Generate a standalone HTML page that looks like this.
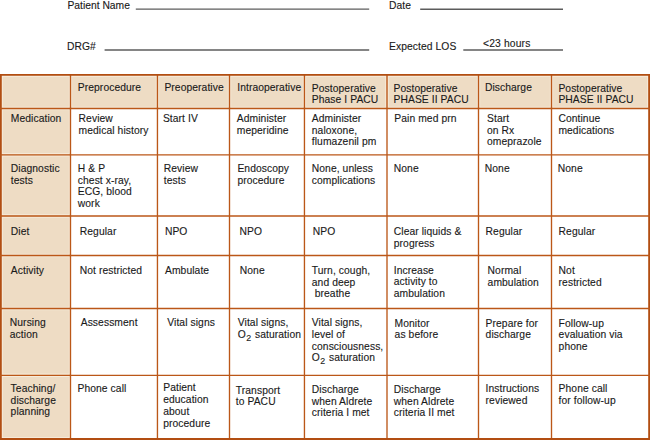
<!DOCTYPE html>
<html><head><meta charset="utf-8"><style>
html,body{margin:0;padding:0;background:#fff;width:650px;height:440px;overflow:hidden;position:relative}
body{font-family:"Liberation Sans",sans-serif;font-size:10.3px;color:#1a1a1a}
.t{position:absolute;white-space:nowrap;letter-spacing:0.08px;-webkit-text-stroke:0.12px #1a1a1a}
.r{position:absolute;background:#555}
.b{position:absolute;background:#bb5718}
.bg{position:absolute;background:#eedcc4}
sub{font-size:0.86em;vertical-align:-0.3em;line-height:0;padding-left:0.3px;margin-right:0.9px}
</style></head><body>

<svg width="650" height="440" style="position:absolute;left:0;top:0"><rect x="0.85" y="74.95" width="648.25" height="33.50" fill="#eedcc4"/><rect x="0.85" y="108.45" width="69.65" height="330.55" fill="#eedcc4"/><rect x="2.25" y="76.35" width="67.08" height="30.92" fill="none" stroke="rgba(255,250,238,0.55)" stroke-width="1"/><rect x="71.67" y="76.35" width="84.60" height="30.92" fill="none" stroke="rgba(255,250,238,0.55)" stroke-width="1"/><rect x="158.62" y="76.35" width="69.70" height="30.92" fill="none" stroke="rgba(255,250,238,0.55)" stroke-width="1"/><rect x="230.68" y="76.35" width="72.60" height="30.92" fill="none" stroke="rgba(255,250,238,0.55)" stroke-width="1"/><rect x="305.62" y="76.35" width="80.20" height="30.92" fill="none" stroke="rgba(255,250,238,0.55)" stroke-width="1"/><rect x="388.18" y="76.35" width="89.15" height="30.92" fill="none" stroke="rgba(255,250,238,0.55)" stroke-width="1"/><rect x="479.68" y="76.35" width="70.65" height="30.92" fill="none" stroke="rgba(255,250,238,0.55)" stroke-width="1"/><rect x="552.67" y="76.35" width="95.03" height="30.92" fill="none" stroke="rgba(255,250,238,0.55)" stroke-width="1"/><rect x="2.25" y="109.62" width="67.08" height="44.05" fill="none" stroke="rgba(255,250,238,0.55)" stroke-width="1"/><rect x="2.25" y="156.03" width="67.08" height="58.80" fill="none" stroke="rgba(255,250,238,0.55)" stroke-width="1"/><rect x="2.25" y="217.18" width="67.08" height="37.15" fill="none" stroke="rgba(255,250,238,0.55)" stroke-width="1"/><rect x="2.25" y="256.68" width="67.08" height="50.65" fill="none" stroke="rgba(255,250,238,0.55)" stroke-width="1"/><rect x="2.25" y="309.68" width="67.08" height="64.45" fill="none" stroke="rgba(255,250,238,0.55)" stroke-width="1"/><rect x="2.25" y="376.48" width="67.08" height="61.12" fill="none" stroke="rgba(255,250,238,0.55)" stroke-width="1"/><line x1="135.8" y1="9.1" x2="369.2" y2="9.1" stroke="#5c5c5c" stroke-width="1.35"/><line x1="420.2" y1="9.2" x2="563.0" y2="9.2" stroke="#5c5c5c" stroke-width="1.35"/><line x1="104.6" y1="50.0" x2="369.2" y2="50.0" stroke="#5c5c5c" stroke-width="1.35"/><line x1="463.3" y1="50.0" x2="563.0" y2="50.0" stroke="#5c5c5c" stroke-width="1.35"/><line x1="0.85" y1="74.95" x2="0.85" y2="439.0" stroke="#b24e12" stroke-width="1.8"/><line x1="70.5" y1="74.95" x2="70.5" y2="439.0" stroke="#bb5718" stroke-width="1.35"/><line x1="157.45" y1="74.95" x2="157.45" y2="439.0" stroke="#bb5718" stroke-width="1.35"/><line x1="229.5" y1="74.95" x2="229.5" y2="439.0" stroke="#bb5718" stroke-width="1.35"/><line x1="304.45" y1="74.95" x2="304.45" y2="439.0" stroke="#bb5718" stroke-width="1.35"/><line x1="387.0" y1="74.95" x2="387.0" y2="439.0" stroke="#bb5718" stroke-width="1.35"/><line x1="478.5" y1="74.95" x2="478.5" y2="439.0" stroke="#bb5718" stroke-width="1.35"/><line x1="551.5" y1="74.95" x2="551.5" y2="439.0" stroke="#bb5718" stroke-width="1.35"/><line x1="649.1" y1="74.95" x2="649.1" y2="439.0" stroke="#b24e12" stroke-width="1.8"/><line x1="-0.05" y1="74.95" x2="650.00" y2="74.95" stroke="#b24e12" stroke-width="1.8"/><line x1="-0.05" y1="108.45" x2="650.00" y2="108.45" stroke="#bb5718" stroke-width="1.35"/><line x1="-0.05" y1="154.85" x2="650.00" y2="154.85" stroke="#bb5718" stroke-width="1.35"/><line x1="-0.05" y1="216.0" x2="650.00" y2="216.0" stroke="#bb5718" stroke-width="1.35"/><line x1="-0.05" y1="255.5" x2="650.00" y2="255.5" stroke="#bb5718" stroke-width="1.35"/><line x1="-0.05" y1="308.5" x2="650.00" y2="308.5" stroke="#bb5718" stroke-width="1.35"/><line x1="-0.05" y1="375.3" x2="650.00" y2="375.3" stroke="#bb5718" stroke-width="1.35"/><line x1="-0.05" y1="439.0" x2="650.00" y2="439.0" stroke="#b24e12" stroke-width="1.8"/></svg>
<div class="t" style="left:67.5px;top:-0.12px;line-height:11.5px;letter-spacing:0px">Patient Name</div>
<div class="t" style="left:389px;top:-0.12px;line-height:11.5px;letter-spacing:0.08px">Date</div>
<div class="t" style="left:66.9px;top:40.68px;line-height:11.5px;letter-spacing:0.08px">DRG#</div>
<div class="t" style="left:389px;top:40.68px;line-height:11.5px;letter-spacing:0.08px">Expected LOS</div>
<div class="t" style="left:483px;top:38.18px;line-height:11.5px;letter-spacing:0.15px">&lt;23 hours</div>
<div class="t" style="left:77.8px;top:82.13px;line-height:11.8px">Preprocedure</div>
<div class="t" style="left:164.4px;top:82.13px;line-height:11.8px">Preoperative</div>
<div class="t" style="left:237.20000000000002px;top:82.13px;line-height:11.8px">Intraoperative</div>
<div class="t" style="left:311.8px;top:82.58px;line-height:11.3px">Postoperative<br>Phase I PACU</div>
<div class="t" style="left:393.5px;top:82.58px;line-height:11.3px">Postoperative<br>PHASE II PACU</div>
<div class="t" style="left:484.90000000000003px;top:82.13px;line-height:11.8px">Discharge</div>
<div class="t" style="left:558.4px;top:82.58px;line-height:11.3px">Postoperative<br>PHASE II PACU</div>
<div class="t" style="left:10.8px;top:112.83px;line-height:11.8px">Medication</div>
<div class="t" style="left:78.6px;top:112.83px;line-height:11.8px">Review<br>medical history</div>
<div class="t" style="left:162.9px;top:113.03px;line-height:11.8px">Start IV</div>
<div class="t" style="left:236.8px;top:112.78px;line-height:11.9px">Administer<br>meperidine</div>
<div class="t" style="left:311.8px;top:112.93px;line-height:11.6px">Administer<br>naloxone,<br>flumazenil pm</div>
<div class="t" style="left:394.3px;top:112.83px;line-height:11.8px">Pain med prn</div>
<div class="t" style="left:487.0px;top:112.88px;line-height:11.7px">Start<br>on Rx<br>omeprazole</div>
<div class="t" style="left:558.4px;top:112.83px;line-height:11.8px">Continue<br>medications</div>
<div class="t" style="left:10.8px;top:163.13px;line-height:11.8px">Diagnostic<br>tests</div>
<div class="t" style="left:77.8px;top:163.28px;line-height:11.5px">H &amp; P<br>chest x-ray,<br>ECG, blood<br>work</div>
<div class="t" style="left:163.8px;top:163.13px;line-height:11.8px">Review<br>tests</div>
<div class="t" style="left:237.4px;top:163.13px;line-height:11.8px">Endoscopy<br>procedure</div>
<div class="t" style="left:311.8px;top:163.38px;line-height:11.3px">None, unless<br>complications</div>
<div class="t" style="left:393.8px;top:163.13px;line-height:11.8px">None</div>
<div class="t" style="left:484.8px;top:163.13px;line-height:11.8px">None</div>
<div class="t" style="left:557.8px;top:163.13px;line-height:11.8px">None</div>
<div class="t" style="left:10.8px;top:226.03px;line-height:11.8px">Diet</div>
<div class="t" style="left:79.8px;top:225.83px;line-height:11.8px">Regular</div>
<div class="t" style="left:164.9px;top:225.83px;line-height:11.8px">NPO</div>
<div class="t" style="left:239.60000000000002px;top:225.83px;line-height:11.8px">NPO</div>
<div class="t" style="left:312.8px;top:225.83px;line-height:11.8px">NPO</div>
<div class="t" style="left:393.8px;top:225.83px;line-height:11.8px">Clear liquids &amp;<br>progress</div>
<div class="t" style="left:485.6px;top:225.83px;line-height:11.8px">Regular</div>
<div class="t" style="left:558.5999999999999px;top:225.83px;line-height:11.8px">Regular</div>
<div class="t" style="left:10.8px;top:265.13px;line-height:11.8px">Activity</div>
<div class="t" style="left:79.8px;top:265.13px;line-height:11.8px">Not restricted</div>
<div class="t" style="left:165.0px;top:265.13px;line-height:11.8px">Ambulate</div>
<div class="t" style="left:239.8px;top:265.13px;line-height:11.8px">None</div>
<div class="t" style="left:311.8px;top:265.23px;line-height:11.6px">Turn, cough,<br>and deep<br>&nbsp;breathe</div>
<div class="t" style="left:393.8px;top:264.83px;line-height:11.6px">Increase<br>activity to<br>ambulation</div>
<div class="t" style="left:487.6px;top:265.23px;line-height:11.6px">Normal<br>ambulation</div>
<div class="t" style="left:558.5999999999999px;top:265.23px;line-height:11.6px">Not<br>restricted</div>
<div class="t" style="left:9.8px;top:317.13px;line-height:11.6px">Nursing<br>action</div>
<div class="t" style="left:80.7px;top:317.03px;line-height:11.8px">Assessment</div>
<div class="t" style="left:167.3px;top:317.03px;line-height:11.8px">Vital signs</div>
<div class="t" style="left:237.8px;top:316.93px;line-height:12px">Vital signs,<br>O<sub>2</sub> saturation</div>
<div class="t" style="left:311.8px;top:316.78px;line-height:11.9px">Vital signs,<br>level of<br>consciousness,<br>O<sub>2</sub> saturation</div>
<div class="t" style="left:394.6px;top:317.63px;line-height:11.8px">Monitor<br>as before</div>
<div class="t" style="left:485.6px;top:317.63px;line-height:11.8px">Prepare for<br>discharge</div>
<div class="t" style="left:558.5999999999999px;top:317.63px;line-height:11.8px">Follow-up<br>evaluation via<br>phone</div>
<div class="t" style="left:10.600000000000001px;top:383.13px;line-height:11.6px">Teaching/<br>discharge<br>planning</div>
<div class="t" style="left:77.5px;top:382.93px;line-height:11.8px">Phone call</div>
<div class="t" style="left:163.20000000000002px;top:382.48px;line-height:11.7px">Patient<br>education<br>about<br>procedure</div>
<div class="t" style="left:235.8px;top:384.58px;line-height:11.3px">Transport<br>to PACU</div>
<div class="t" style="left:311.8px;top:384.18px;line-height:11.5px">Discharge<br>when Aldrete<br>criteria I met</div>
<div class="t" style="left:393.8px;top:384.18px;line-height:11.5px">Discharge<br>when Aldrete<br>criteria II met</div>
<div class="t" style="left:485.6px;top:383.48px;line-height:11.5px">Instructions<br>reviewed</div>
<div class="t" style="left:558.5999999999999px;top:383.48px;line-height:11.5px">Phone call<br>for follow-up</div>
</body></html>
